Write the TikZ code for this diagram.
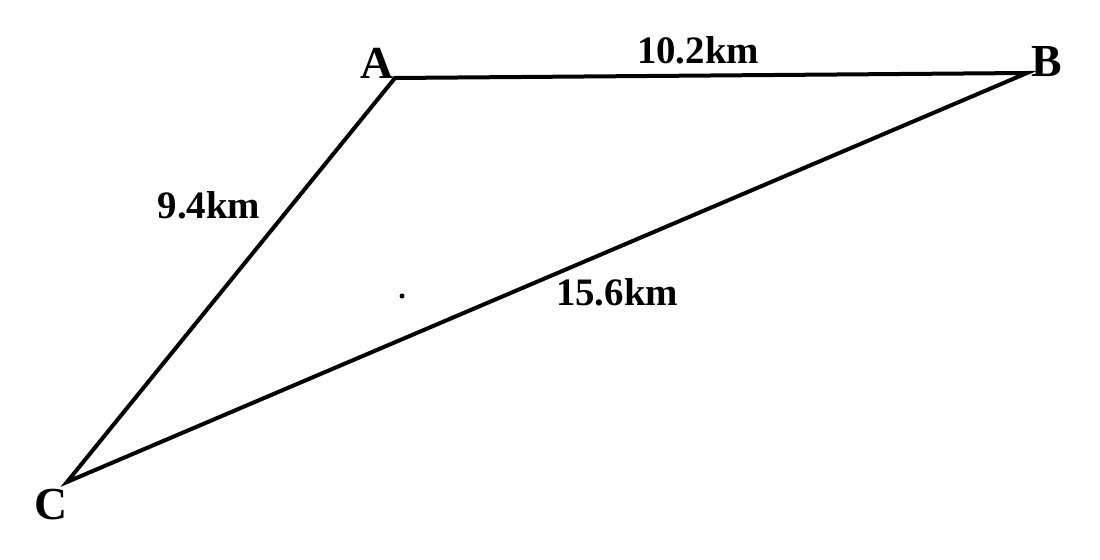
\documentclass[tikz,border=0pt]{standalone}
\usepackage{fontspec}
\setmainfont{Liberation Serif}
\begin{document}
\begin{tikzpicture}[x=1bp,y=-1bp]
\tikzset{vert/.style={font=\fontsize{46}{46}\selectfont\bfseries, inner sep=0pt},
dist/.style={font=\fontsize{39}{39}\selectfont\bfseries, inner sep=0pt}}
\useasboundingbox (0,0) rectangle (1100,560);
\coordinate (A) at (395,78);
\coordinate (B) at (1027,73);
\coordinate (C) at (67,482);
\node[vert] (la) at (377,63) {A};
\node[vert] (lb) at (1047,62) {B};
\node[vert] (lc) at (51,505) {C};
\node[dist] (ab) at (698,50) {10.2km};
\node[dist] (ac) at (209,205) {9.4km};
\node[dist] (bc) at (617,292) {15.6km};
\fill (402,296) circle (2.5);
\path[draw,line width=4bp,line join=miter] (C) -- (A) -- (B) -- cycle;
\end{tikzpicture}
\end{document}
